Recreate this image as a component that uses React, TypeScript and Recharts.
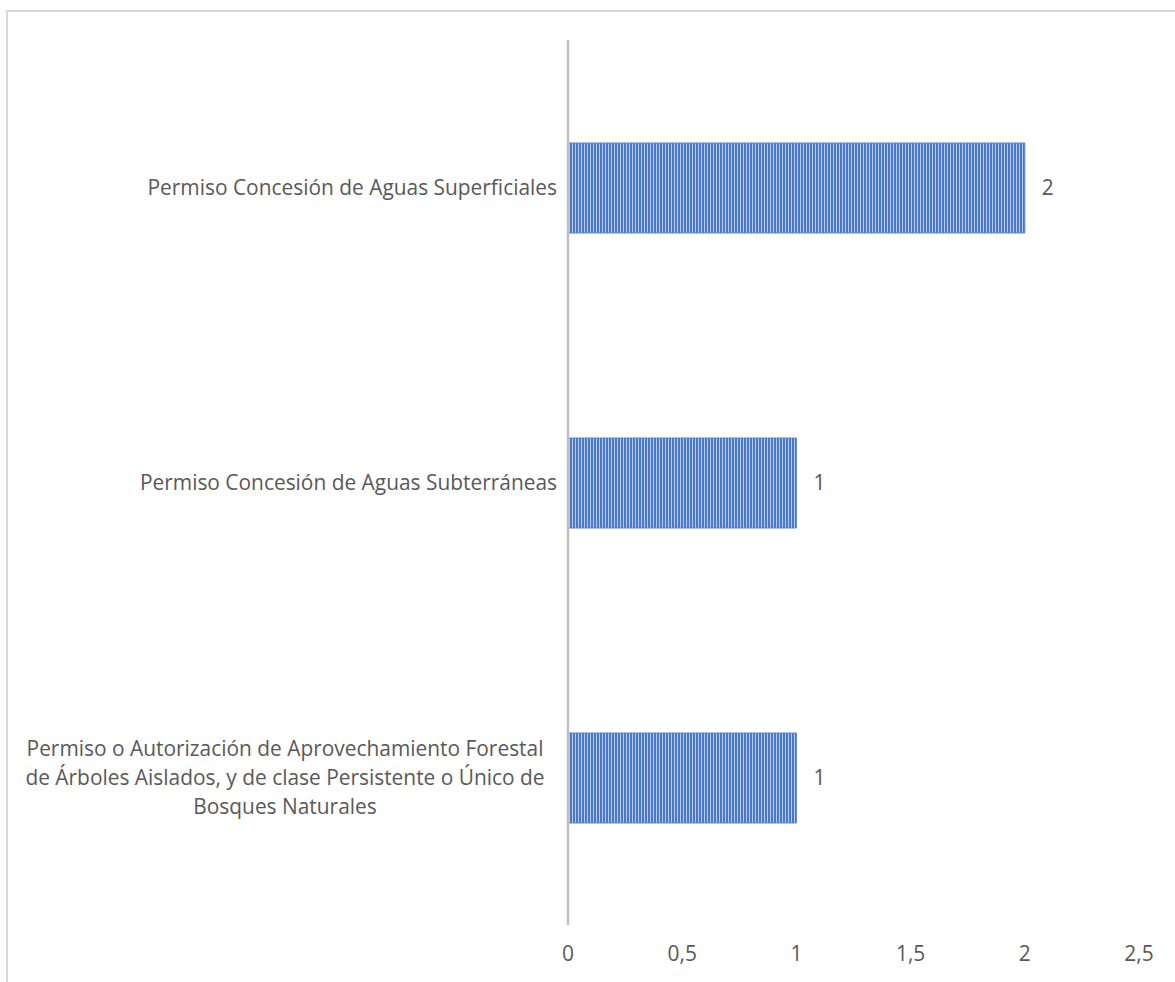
import { BarChart, Bar, XAxis, YAxis, LabelList } from 'recharts';

const CATEGORIES = [
    'Permiso Concesión de Aguas Superficiales',
    'Permiso Concesión de Aguas Subterráneas',
    'Permiso o Autorización de Aprovechamiento Forestal\nde Árboles Aislados, y de clase Persistente o Único de\nBosques Naturales',
];
const VALUES = [2, 1, 1];
const X_TICKS = [0, 0.5, 1, 1.5, 2, 2.5];

const DATA = CATEGORIES.map((name, i) => ({ name, value: VALUES[i] }));

const FONT = '"Open Sans", sans-serif';
const TEXT = '#595959';
const FS = 20.9;

const CategoryTick = ({ x, y, payload }: any) => {
    const lines = String(payload.value).split('\n');
    const lh = 29;
    const top = y - ((lines.length - 1) * lh) / 2;
    if (lines.length === 1) {
        return (
            <text x={x - 3} y={y} dy="0.35em" textAnchor="end" fill={TEXT} fontSize={FS} fontFamily={FONT}>
                {lines[0]}
            </text>
        );
    }
    // wrapped labels are centred inside their own box, like Excel does
    return (
        <text x={x - 275} y={top} textAnchor="middle" fill={TEXT} fontSize={FS} fontFamily={FONT}>
            {lines.map((l, i) => (
                <tspan key={i} x={x - 275} y={top + i * lh} dy="0.35em">{l}</tspan>
            ))}
        </text>
    );
};

export default function App() {
    return (
        <div style={{ position: 'absolute', left: 0, top: 0, width: 1175, height: 982, background: '#fff', overflow: 'hidden' }}>
            <div style={{ position: 'absolute', left: 6, top: 10, width: 1300, height: 1100, border: '2px solid #d9d9d9' }} />
            <div style={{ position: 'absolute', left: 0, top: 0 }}>
                <BarChart
                    width={1175}
                    height={982}
                    data={DATA}
                    layout="vertical"
                    margin={{ top: 40, right: 36, bottom: 0, left: 0 }}
                    barSize={90}
                >
                    <defs>
                        <pattern id="stripes" width="3" height="10" patternUnits="userSpaceOnUse">
                            <rect width="3" height="10" fill="#b8cbf0" />
                            <rect width="2" height="10" fill="#4a79cc" />
                        </pattern>
                    </defs>
                    <XAxis
                        type="number"
                        domain={[0, 2.5]}
                        ticks={X_TICKS}
                        tickFormatter={(v) => String(v).replace('.', ',')}
                        axisLine={false}
                        tickLine={false}
                        tickSize={0}
                        tickMargin={21}
                        height={57}
                        tick={{ fill: TEXT, fontSize: FS, fontFamily: FONT }}
                        interval={0}
                    />
                    <YAxis
                        type="category"
                        dataKey="name"
                        width={568}
                        axisLine={{ stroke: '#bfbfbf', strokeWidth: 2.5 }}
                        tickLine={false}
                        tick={<CategoryTick />}
                        interval={0}
                    />
                    <Bar dataKey="value" fill="url(#stripes)" stroke="#5b84cc" strokeWidth={1} isAnimationActive={false}>
                        <LabelList dataKey="value" position="right" offset={17} fill={TEXT} fontSize={FS} fontFamily={FONT} />
                    </Bar>
                </BarChart>
            </div>
        </div>
    );
}
